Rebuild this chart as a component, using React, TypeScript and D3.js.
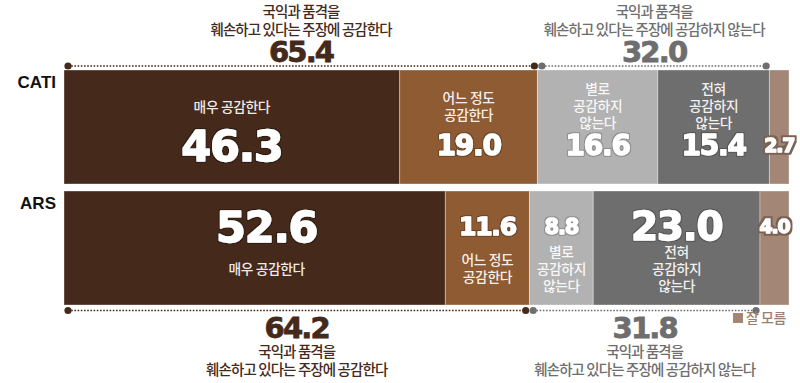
import React from "react";
import * as d3 from "d3";

// ---- data ----
const categories = ["CATI", "ARS"];
const segmentNames = ["매우 공감한다", "어느 정도 공감한다", "별로 공감하지 않는다", "전혀 공감하지 않는다", "잘 모름"];
const segmentLabelLines = [["매우 공감한다"], ["어느 정도", "공감한다"], ["별로", "공감하지", "않는다"], ["전혀", "공감하지", "않는다"], []];
const catiValues = [46.3, 19.0, 16.6, 15.4, 2.7];
const arsValues = [52.6, 11.6, 8.8, 23.0, 4.0];
const agreeTotals = [65.4, 64.2];
const disagreeTotals = [32.0, 31.8];
const agreeTitle = ["국익과 품격을", "훼손하고 있다는 주장에 공감한다"];
const disagreeTitle = ["국익과 품격을", "훼손하고 있다는 주장에 공감하지 않는다"];
const legendLabel = "잘 모름";

// ---- style ----
const W = 800;
const H = 383;
const colors = ["#45291a", "#8f5b32", "#b2b2b2", "#6e6e6e", "#a38675"];
const strokeColors = ["#2e1b10", "#6e4322", "#8e8e8e", "#555555", "#7d6252"];
const agreeColor = "#45291a";
const disagreeColor = "#6e6e6e";
const numFont = "'DejaVu Sans', sans-serif";
const krFont = "'Noto Sans CJK KR', 'Noto Sans', sans-serif";
const rowNumSizes = [
  [43, 28, 28, 28, 19],
  [43, 25, 21, 39, 19],
];
const rowLabelDx = [
  [0, 0, 0, 0, 0],
  [12, 0, 0, 0, 0],
];

export default function App() {
  const rows = [catiValues, arsValues];
  const x = d3.scaleLinear().domain([0, 100]).range([64, 789]);
  const y = d3.scaleBand<string>().domain(categories).range([70, 305]).paddingInner(0.058);
  const bw = y.bandwidth();

  const stacked = rows.map((vals) => {
    let acc = 0;
    return vals.map((v, i) => {
      const s = { i, v, x0: acc, x1: acc + v };
      acc += v;
      return s;
    });
  });

  const dotted = (yy: number, agree: number, disagree: number) => {
    const a0 = x(0) + 4;
    const a1 = x(agree) - 3.75;
    const d0 = x(agree) + 3.75;
    const d1 = x(agree + disagree) - 4;
    return (
      <g>
        <line x1={a0} x2={a1} y1={yy} y2={yy} stroke={agreeColor} strokeWidth={1.6} strokeDasharray="1.6,1.6" />
        <line x1={d0} x2={d1} y1={yy} y2={yy} stroke={disagreeColor} strokeWidth={1.6} strokeDasharray="1.6,1.6" />
        <circle cx={a0} cy={yy} r={3.6} fill={agreeColor} />
        <circle cx={a1} cy={yy} r={3.6} fill={agreeColor} />
        <circle cx={d0} cy={yy} r={3.6} fill={disagreeColor} />
        <circle cx={d1} cy={yy} r={3.6} fill={disagreeColor} />
      </g>
    );
  };

  const titleBlock = (cx: number, lines: string[], value: number, color: string, top: boolean) => {
    const lineY = top ? 12 : 352;
    const numY = top ? 51 : 327;
    return (
      <g>
        <text x={cx} y={lineY + 5.2} textAnchor="middle" fontFamily={krFont} fontSize={14.5} fontWeight={500} letterSpacing={-0.9} fill={color}>
          {lines.map((t, k) => (
            <tspan key={k} x={cx} dy={k === 0 ? 0 : 18}>
              {t}
            </tspan>
          ))}
        </text>
        <text x={cx} y={numY + 0.365 * 29} textAnchor="middle" fontFamily={numFont} fontWeight={700} fontSize={29} letterSpacing={-1.8} fill={color} stroke={color} strokeWidth={0.8}>
          {value.toFixed(1)}
        </text>
      </g>
    );
  };

  return (
    <svg width={W} height={H} style={{ position: "absolute", left: 0, top: 0, background: "#fff" }}>
      <defs>
        {strokeColors.map((c, i) => (
          <filter key={i} id={"outline" + i} x="-20%" y="-30%" width="140%" height="160%">
            <feMorphology in="SourceAlpha" operator="dilate" radius={i === 4 ? 1.6 : 1.1} result="d" />
            <feFlood floodColor={c} result="f" />
            <feComposite in="f" in2="d" operator="in" result="o" />
            <feMerge>
              <feMergeNode in="o" />
              <feMergeNode in="SourceGraphic" />
            </feMerge>
          </filter>
        ))}
      </defs>

      {titleBlock((x(0) + x(agreeTotals[0])) / 2, agreeTitle, agreeTotals[0], agreeColor, true)}
      {titleBlock((x(agreeTotals[0]) + x(agreeTotals[0] + disagreeTotals[0])) / 2, disagreeTitle, disagreeTotals[0], disagreeColor, true)}
      {titleBlock((x(0) + x(agreeTotals[1])) / 2, agreeTitle, agreeTotals[1], agreeColor, false)}
      {titleBlock((x(agreeTotals[1]) + x(agreeTotals[1] + disagreeTotals[1])) / 2, disagreeTitle, disagreeTotals[1], disagreeColor, false)}

      {dotted((y("CATI") as number) - 4, agreeTotals[0], disagreeTotals[0])}
      {dotted((y("ARS") as number) + bw + 5.5, agreeTotals[1], disagreeTotals[1])}

      {categories.map((cat, r) => {
        const y0 = y(cat) as number;
        const numbersBelow = r === 0;
        return (
          <g key={cat}>
            <text x={56} y={y0 + 18} textAnchor="end" fontFamily="'Liberation Sans', Arial, sans-serif" fontWeight={700} fontSize={17} fill="#111">
              {cat}
            </text>
            {stacked[r].map((s) => (
              <rect key={s.i} x={x(s.x0)} y={y0} width={x(s.x1) - x(s.x0)} height={bw} fill={colors[s.i]} stroke="#ffffff" strokeOpacity={0.35} strokeWidth={1} />
            ))}
            {stacked[r].map((s) => {
              const cx = (x(s.x0) + x(s.x1)) / 2 + rowLabelDx[r][s.i];
              const lines = segmentLabelLines[s.i];
              const n = lines.length;
              const numSize = rowNumSizes[r][s.i];
              const numCenter = numbersBelow ? y0 + 75 : y0 + 35;
              const labelStart = numbersBelow ? y0 + 37 - (n - 1) * 9 : y0 + 78 - (n - 1) * 8.5;
              const isSmall = s.i === 4;
              const ny = (isSmall ? y0 + 75 - (r === 1 ? 40 : 0) : numCenter) + 0.365 * numSize;
              return (
                <g key={"l" + s.i}>
                  {n > 0 && (
                    <text x={cx} y={labelStart + 4.9} textAnchor="middle" fontFamily={krFont} fontSize={13.8} fontWeight={500} letterSpacing={-0.4} fill="#ffffff" fillOpacity={0.93}>
                      {lines.map((t, k) => (
                        <tspan key={k} x={cx} dy={k === 0 ? 0 : 17}>
                          {t}
                        </tspan>
                      ))}
                    </text>
                  )}
                  <text x={cx} y={ny} textAnchor="middle" fontFamily={numFont} fontWeight={700} fontSize={numSize} letterSpacing={-1.2} fill="#ffffff" stroke="#ffffff" strokeWidth={1.3} strokeLinejoin="round" filter={`url(#outline${s.i})`}>
                    {s.v.toFixed(1)}
                  </text>
                </g>
              );
            })}
          </g>
        );
      })}

      <g>
        <rect x={733} y={313} width={10} height={10} fill={colors[4]} />
        <text x={746} y={323} fontFamily={krFont} fontSize={14} fontWeight={500} letterSpacing={-0.5} fill="#9a7f6f">
          {legendLabel}
        </text>
      </g>
      <title>{segmentNames.join(", ")}</title>
    </svg>
  );
}
